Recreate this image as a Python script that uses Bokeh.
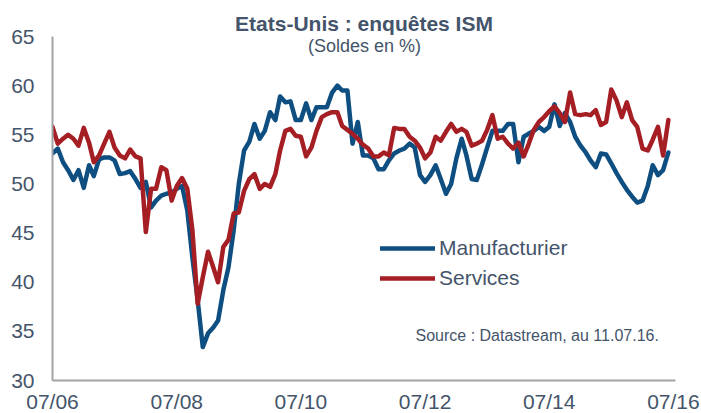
import pandas as pd
from bokeh.plotting import figure
from bokeh.models import Label, Legend, LegendItem, FixedTicker, Range1d, Title
from bokeh.embed import file_html
from bokeh.resources import INLINE

# ---- data (monthly, 07/2006 .. 06/2016) ----
start_month = "2006-07-01"
manufacturier = [
    53.1, 53.6, 52.2, 51.4, 50.4, 51.4, 49.6, 51.9, 50.8, 52.5, 52.7, 52.7, 52.4, 51.0, 51.1, 51.3, 50.5, 49.6, 50.2,
    47.6, 48.3, 48.8, 49.0, 49.1, 49.5, 49.8, 47.3, 42.5, 38.2, 33.4, 34.8, 35.4, 36.1, 39.2, 41.5, 45.3, 50.0, 53.4,
    54.3, 56.1, 54.6, 55.4, 57.3, 56.5, 58.9, 58.3, 58.4, 56.5, 56.5, 58.2, 56.5, 57.8, 57.8, 57.8, 59.3, 60.0, 59.5, 59.5, 54.1, 56.3,
    52.9, 52.9, 52.6, 51.5, 51.5, 52.4, 53.1, 53.4, 53.6, 54.1, 53.7, 50.9, 50.2, 50.9, 51.9, 50.5, 49.0, 50.0, 52.6, 54.6,
    52.9, 50.5, 50.4, 52.0, 53.7, 55.4, 55.4, 55.4, 56.1, 56.1, 52.2, 54.8, 55.1, 55.4, 55.8, 55.4, 55.8,
    58.1, 55.9, 57.2, 56.3, 54.8, 53.9, 53.2, 52.4, 51.7, 53.1, 53.0, 52.1, 51.1, 50.2, 49.4, 48.7, 48.1, 48.3, 49.8, 51.9,
    50.9, 51.4, 53.2,
]
services = [
    55.8, 54.1, 54.6, 55.0, 54.6, 53.9, 55.7, 54.2, 52.2, 52.9, 54.1, 55.3, 53.7, 52.9, 52.6, 53.5, 52.8, 52.6, 45.1,
    49.5, 49.5, 51.7, 51.4, 48.3, 49.8, 50.6, 49.5, 45.3, 37.8, 40.5, 43.1, 41.5, 40.0, 43.6, 44.3, 47.0, 47.1, 49.3,
    50.5, 51.0, 49.5, 50.0, 49.7, 51.0, 53.4, 55.4, 55.6, 54.9, 54.8, 52.8, 53.7, 55.4, 56.8, 57.1, 57.3, 57.3, 55.9, 55.5, 55.1, 54.6,
    54.0, 53.6, 52.8, 52.8, 53.2, 52.9, 55.7, 55.6, 55.6, 54.8, 54.4, 53.7, 52.6, 53.2, 54.8, 54.4, 55.3, 56.1, 55.3, 55.6,
    55.3, 53.9, 54.1, 54.4, 55.5, 57.0, 54.6, 54.8, 54.1, 53.6, 54.2, 52.8, 54.0, 55.5, 56.3, 56.8, 57.4,
    57.9, 57.2, 56.3, 59.3, 57.1, 57.0, 57.1, 57.0, 57.5, 56.0, 56.3, 59.6, 58.5, 56.8, 58.3, 56.5, 55.8, 53.6, 53.4, 54.5,
    55.8, 52.9, 56.5,
]
series_names = ["Manufacturier", "Services"]
x_tick_dates = ["2006-07-01", "2008-07-01", "2010-07-01", "2012-07-01", "2014-07-01", "2016-07-01"]
x_tick_labels = ["07/06", "07/08", "07/10", "07/12", "07/14", "07/16"]
y_ticks = [30, 35, 40, 45, 50, 55, 60, 65]

title_text = "Etats-Unis : enquêtes ISM"
subtitle_text = "(Soldes en %)"
source_text = "Source : Datastream, au 11.07.16."

months = pd.date_range(start_month, periods=len(manufacturier), freq="MS")

def ms(d):
    return pd.Timestamp(d).value / 1e6

BLUE = "#0e4e80"
RED = "#a51e24"
TXT = "#44546a"
AXIS = "#a0a4a8"
FONT = "Liberation Sans"

p = figure(frame_width=623, frame_height=344, x_axis_type="datetime",
           x_range=Range1d(ms("2006-07-01"), ms("2016-07-13")),
           y_range=Range1d(30, 65),
           output_backend="svg", toolbar_location=None,
           min_border_left=52, min_border_right=26, min_border_top=36, min_border_bottom=0)
p.grid.visible = False
p.outline_line_color = None
p.background_fill_color = "white"
p.border_fill_color = "white"

r1 = p.line(months, manufacturier, line_color=BLUE, line_width=4.5, line_join="round", line_cap="round")
r2 = p.line(months, services, line_color=RED, line_width=4.5, line_join="round", line_cap="round")

for ax in (p.xaxis[0], p.yaxis[0]):
    ax.axis_line_color = AXIS
    ax.axis_line_width = 2
    ax.major_tick_line_color = None
    ax.minor_tick_line_color = None
    ax.major_tick_out = 0
    ax.major_tick_in = 0
    ax.minor_tick_out = 0
    ax.minor_tick_in = 0
    ax.major_label_text_font = FONT
    ax.major_label_text_font_size = "21px"
    ax.major_label_text_color = TXT

p.yaxis.ticker = FixedTicker(ticks=y_ticks)
p.yaxis.major_label_standoff = 18
p.xaxis.ticker = FixedTicker(ticks=[ms(d) for d in x_tick_dates])
p.xaxis.major_label_overrides = {ms(d): lab for d, lab in zip(x_tick_dates, x_tick_labels)}
p.xaxis.major_label_standoff = 9

p.add_layout(Title(text=title_text, align="center", text_font=FONT, text_font_size="21px",
                   text_font_style="bold", text_color=TXT, standoff=3), "above")

legend = Legend(items=[LegendItem(label=series_names[0], renderers=[r1]),
                       LegendItem(label=series_names[1], renderers=[r2])],
                location=(328, 87), glyph_width=55, glyph_height=30, label_height=30,
                spacing=0, padding=0, margin=0, border_line_color=None,
                background_fill_alpha=0, label_standoff=4,
                label_text_font=FONT, label_text_font_size="21px", label_text_color=TXT)
p.add_layout(legend)

p.add_layout(Label(x=312, y=335, x_units="screen", y_units="screen", text=subtitle_text,
                   text_align="center", text_baseline="middle", text_font=FONT,
                   text_font_size="18px", text_color=TXT))
p.add_layout(Label(x=363, y=45, x_units="screen", y_units="screen", text=source_text,
                   text_align="left", text_baseline="middle", text_font=FONT,
                   text_font_size="16px", text_color=TXT))

open("out.html", "w").write(file_html(p, INLINE))
